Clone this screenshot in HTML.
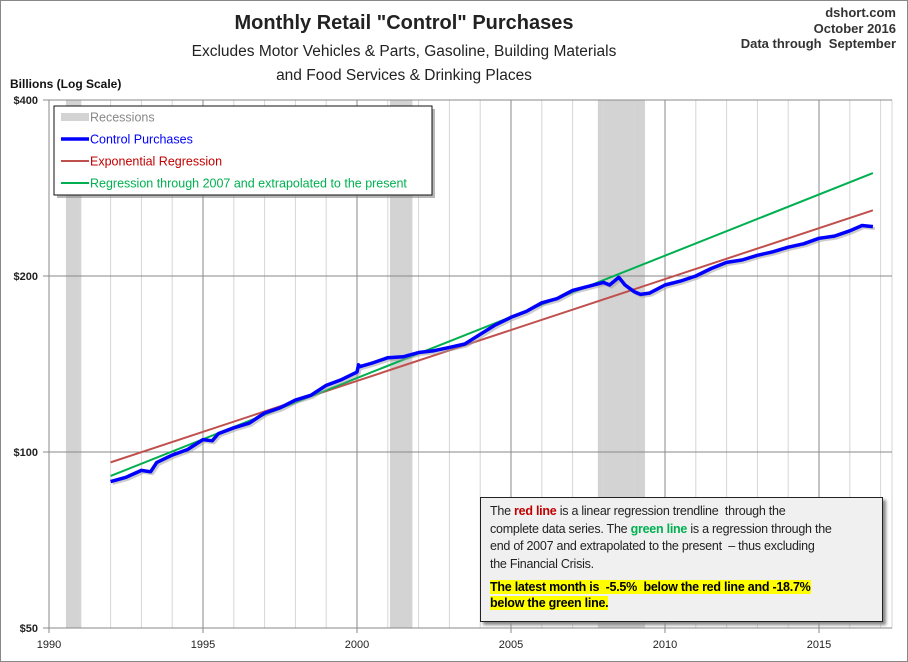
<!DOCTYPE html>
<html><head><meta charset="utf-8"><style>
body{margin:0;width:908px;height:662px;background:#fff;font-family:"Liberation Sans",sans-serif;overflow:hidden}
#frame{position:absolute;left:0;top:0;width:906px;height:660px;border:1px solid #888}
.t{position:absolute;white-space:nowrap}
#note{position:absolute;left:480px;top:497px;width:392px;height:118px;background:#f0f0f0;border:1px solid #222;box-shadow:3px 3px 3px #888;padding:5px 0 0 9px;font-size:12.5px;line-height:17.5px;color:#222;white-space:nowrap;letter-spacing:-0.25px}
.hl{background:#ffff00;font-weight:bold;color:#000}
</style></head><body>
<div id="frame"></div>
<div class="t" style="left:0;width:908px;text-align:center;top:12px;font-size:20px;font-weight:bold;color:#222;margin-left:-50px">Monthly Retail "Control" Purchases</div>
<div class="t" style="left:0;width:908px;text-align:center;top:40px;font-size:15.5px;line-height:24px;color:#222;margin-left:-50px">Excludes Motor Vehicles &amp; Parts, Gasoline, Building Materials<br>and Food Services &amp; Drinking Places</div>
<div class="t" style="right:12px;top:5px;text-align:right;font-size:13px;font-weight:bold;line-height:15.5px;color:#333">dshort.com<br>October 2016<br>Data through &nbsp;September</div>
<div class="t" style="left:10px;top:77px;font-size:12px;font-weight:bold;color:#111">Billions (Log Scale)</div>
<svg id="c" width="908" height="662" style="position:absolute;left:0;top:0"></svg>
<div id="note">The <b style="color:#c00000">red line</b> is a linear regression trendline &nbsp;through the<br>complete data series. The <b style="color:#00b050">green line</b> is a regression through the<br>end of 2007 and extrapolated to the present &nbsp;– thus excluding<br>the Financial Crisis.<div style="margin-top:6px;line-height:16px"><span class="hl">The latest month is &nbsp;-5.5% &nbsp;below the red line and -18.7%<br>below the green line.</span></div></div>
<script>
const xTicks=[1990,1995,2000,2005,2010,2015];
const yTicks=[50,100,200,400];
const yTickLabels=["$50","$100","$200","$400"];
const recessions=[[1990.55,1991.05],[2001.07,2001.8],[2007.82,2009.35]];
const years=[1992,1992.5,1993,1993.3,1993.5,1994,1994.5,1995,1995.3,1995.5,1996,1996.5,1997,1997.5,1998,1998.5,1999,1999.5,2000,2000.05,2000.1,2000.5,2001,2001.5,2002,2002.5,2003,2003.5,2004,2004.5,2005,2005.5,2006,2006.5,2007,2007.5,2008,2008.2,2008.5,2008.7,2009,2009.2,2009.5,2010,2010.5,2011,2011.5,2012,2012.5,2013,2013.5,2014,2014.5,2015,2015.5,2016,2016.4,2016.75];
const control=[89,90.5,93,92.5,96,98.8,101,105,104.5,107.5,110,112,116.6,119,122.7,125,130,133,137,141,140,142,145,145.5,148,149,151,153,159,165,170,174,180,183,189,192,195,193,199,193,188,186,187,193,196,200,206,211,213,217,220,224,227,232,234,239,244,243];
const redStart=[1992,96], redEnd=[2016.75,259];
const greenStart=[1992,91], greenEnd=[2016.75,300];
const L=49,R=892,T=100,B=628;
const X=y=>L+(y-1990)*30.8;
const Y=v=>452-176*Math.log2(v/100);
const svg=document.getElementById('c');const NS='http://www.w3.org/2000/svg';
function mk(t,a){const e=document.createElementNS(NS,t);for(const k in a)e.setAttribute(k,a[k]);svg.appendChild(e);return e;}
recessions.forEach(r=>{const e=mk('rect',{x:X(r[0]),y:T,width:X(r[1])-X(r[0]),height:B-T,fill:'#d3d3d3'});

});
for(let y=1990;y<=2017;y++){const major=xTicks.includes(y);const e=mk('line',{x1:X(y),x2:X(y),y1:T,y2:B,stroke:major?'#888':'#d6d6d6','stroke-width':1});

}
mk('line',{x1:R,x2:R,y1:T,y2:B,stroke:'#d6d6d6'});
yTicks.forEach((v,i)=>{const e=mk('line',{x1:L-6,x2:R,y1:Y(v),y2:Y(v),stroke:'#888'});


const t=mk('text',{x:38,y:Y(v)+4,'text-anchor':'end','font-size':11,'font-weight':'bold',fill:'#222'});t.textContent=yTickLabels[i];

});
mk('line',{x1:L,x2:L,y1:T,y2:B+5,stroke:'#888'});
xTicks.forEach(y=>{mk('line',{x1:X(y),x2:X(y),y1:B,y2:B+5,stroke:'#888'});const t=mk('text',{x:X(y),y:B+20,'text-anchor':'middle','font-size':11,fill:'#222'});t.textContent=y;

});
const red=mk('line',{x1:X(redStart[0]),y1:Y(redStart[1]),x2:X(redEnd[0]),y2:Y(redEnd[1]),stroke:'#c0504d','stroke-width':2});


const green=mk('line',{x1:X(greenStart[0]),y1:Y(greenStart[1]),x2:X(greenEnd[0]),y2:Y(greenEnd[1]),stroke:'#00b050','stroke-width':2});


const pts=years.map((y,i)=>X(y).toFixed(1)+','+Y(control[i]).toFixed(1)).join(' ');
mk('polyline',{points:pts,fill:'none',stroke:'#999','stroke-width':3,opacity:0.5,transform:'translate(2,2)'});
const blue=mk('polyline',{points:pts,fill:'none',stroke:'#0000ff','stroke-width':3.5,'stroke-linejoin':'round'});


mk('rect',{x:57,y:109,width:378,height:89,fill:'#888',opacity:0.6});
const lg=mk('rect',{x:54,y:106,width:378,height:89,fill:'#fff',stroke:'#111'});


const items=[['Recessions','#888','#d3d3d3',8],['Control Purchases','#0000ff','#0000ff',3.5],['Exponential Regression','#c00000','#c0504d',2],['Regression through 2007 and extrapolated to the present','#00b050','#00b050',2]];
items.forEach((it,i)=>{const y=117+i*22;mk('line',{x1:61,x2:89,y1:y,y2:y,stroke:it[2],'stroke-width':it[3]});
const t=mk('text',{x:90,y:y+4.5,'font-size':12.5,fill:it[1]});t.textContent=it[0];

});
</script>
</body></html>
